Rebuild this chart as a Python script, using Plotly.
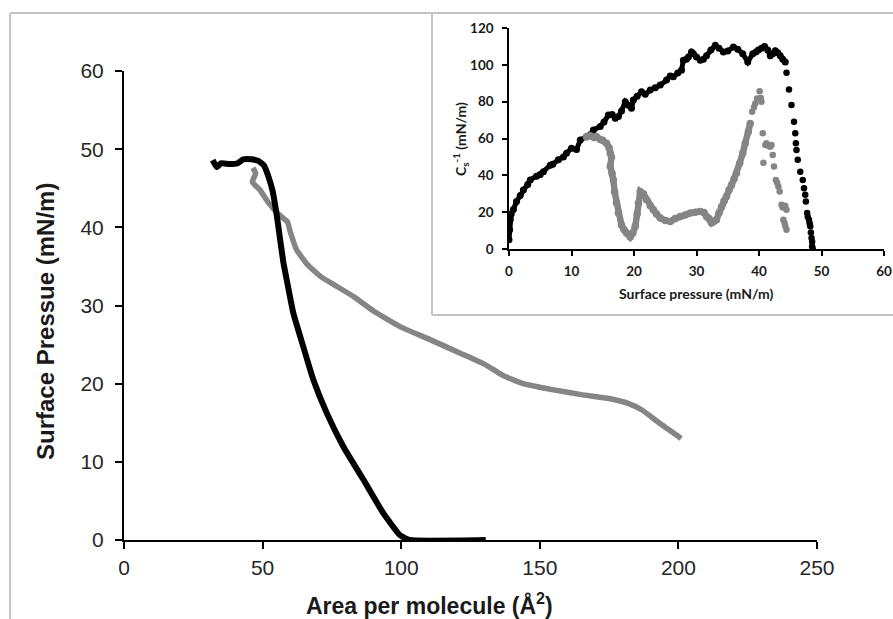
import plotly.graph_objects as go

W, H = 893, 619

# ── main isotherm: surface pressure vs area per molecule ──
black_area = [32.0, 33.5, 35.0, 38.0, 41.0, 43.0, 46.0, 48.5, 50.5, 52.0, 53.5, 55.0,
              56.3, 57.5, 58.7, 61.1, 64.7, 68.3, 73.2, 79.2, 86.4, 93.6, 99.6, 103.0, 130.5]
black_pi = [48.6, 47.7, 48.2, 48.1, 48.2, 48.7, 48.7, 48.5, 47.9, 46.6, 44.8, 41.8,
            38.5, 35.5, 33.3, 29.0, 24.7, 20.5, 16.2, 11.9, 7.7, 3.4, 0.6, 0.0, 0.0]

gray_area = [46.5, 47.5, 46.3, 49.0, 52.0, 56.0, 58.0, 59.0, 60.0, 62.3, 66.0, 71.0, 77.0,
             83.0, 90.0, 99.6, 110.0, 121.3, 130.0, 137.0, 144.0, 155.0, 165.0, 175.0,
             181.6, 187.0, 193.0, 201.0]
gray_pi = [47.6, 46.9, 45.8, 44.8, 43.2, 41.6, 41.0, 40.7, 39.4, 37.1, 35.3, 33.7, 32.4,
           31.1, 29.3, 27.3, 25.7, 23.9, 22.5, 21.0, 20.0, 19.2, 18.6, 18.1,
           17.5, 16.6, 15.0, 13.0]

# ── inset: compressibility modulus vs surface pressure ──
ins_black_x = [0, 0.1, 0.2, 0.35, 0.7, 1.2, 1.8, 2.3, 3.0, 3.4, 4.4, 5.0, 5.5, 6.6, 7.0, 7.9,
               8.7, 9.2, 10.0, 10.8, 11.4, 12.4, 13.0, 13.5, 14.6, 15.2, 15.9, 16.5, 17.0,
               17.5, 18.0, 18.6, 19.1, 19.6, 19.9, 20.5, 21.2, 21.8, 22.6, 23.4, 24.2, 25.2,
               25.8, 26.3, 27.0, 27.6, 27.9, 28.4, 28.7, 29.2, 29.5, 30.0, 30.6, 31.1, 31.6,
               32.3, 33.0, 33.6, 34.3, 35.0, 35.9, 36.6, 37.4, 38.2, 39.0, 39.5, 39.9, 40.4,
               40.9, 41.4, 41.8, 42.2, 42.6, 43.0, 43.4, 43.8, 44.2]
ins_black_y = [5, 10.5, 16, 19, 21.5, 25.8, 29, 32, 35, 37.5, 39.5, 40.5, 42, 45.5, 46, 48.4,
               50, 52, 54.7, 54, 59.2, 61, 62, 64.6, 66.5, 69, 72.7, 73, 71,
               72, 75, 80, 78, 76.4, 80.9, 83, 85.4, 84, 86.3, 87.5, 89, 91.7,
               94, 93.5, 95.5, 97.1, 102.5, 103, 104.3, 107, 106, 104.3, 102.5, 103, 105,
               108, 110.6, 109, 107, 107.5, 109.7, 108.5, 106, 101.6, 106, 107, 108, 109,
               110, 108, 105, 106, 107.6, 106.5, 105, 103, 101.6]
ins_black_drop_x = [44.4, 44.8, 45.2, 45.6, 45.8, 45.9, 46.0, 46.2, 46.6, 47.0, 47.2, 47.4,
                    47.5, 47.7, 47.8, 48.0, 48.1, 48.2, 48.3, 48.4, 48.5, 48.5, 48.6]
ins_black_drop_y = [95.7, 86.6, 78.2, 69.1, 62.8, 57.4, 53.8, 48.4, 42, 37.5, 33, 29.4,
                    25.8, 19.5, 17.5, 15.9, 14, 12.3, 9, 6, 4, 1.4, 0]

ins_gray_x = [12.4, 13.0, 13.6, 14.0, 14.6, 15.0, 15.6, 16.0, 16.2, 16.4, 16.2, 16.5, 16.7,
              16.9, 17.2, 17.5, 18.0, 18.4, 18.8, 19.1, 19.4, 19.8, 20.2, 20.5, 20.7, 21.0,
              21.5, 22.0, 22.6, 23.1, 23.6, 24.2, 25.0, 25.8, 26.6, 27.4, 28.2, 29.0, 29.8,
              30.6, 31.2, 31.6, 32.0, 32.4, 32.8, 33.2, 33.6, 34.0, 34.4, 34.8, 35.2, 35.6,
              36.0, 36.4, 36.9, 37.4, 37.8, 38.3, 38.6]
ins_gray_y = [61, 61.5, 60.5, 61, 59.5, 59, 57.4, 55, 52, 50, 45, 41, 37.5,
              31, 25, 19.5, 13, 10.5, 8.7, 8, 6.5, 8.5, 12.3, 19, 24.9, 31.2,
              30, 26.7, 23.5, 21.3, 19, 16.8, 15.5, 15, 16.5, 17.7, 18.5, 19.5, 20,
              20.4, 19.8, 17.7, 16.5, 14.1, 15, 15.9, 19.5, 23, 26, 28.5, 32, 34.8,
              38, 41.2, 46.6, 52, 57.4, 63.7, 68.2]
ins_gray_pts_x = [38.9, 39.2, 39.4, 39.7, 40.1, 40.3, 40.4, 40.6, 40.7, 41.0, 41.2, 41.5, 41.8,
                  42.0, 42.2, 42.4, 42.7, 42.9, 43.1, 43.3, 43.6, 43.8, 44.0, 44.2, 44.4, 43.9,
                  44.1, 44.2, 44.4]
ins_gray_pts_y = [74.5, 77, 79, 81.7, 85.7, 82, 80, 62.8, 46.9, 56.5, 57.4, 56, 55.5,
                  56.5, 51, 44.8, 37.5, 36, 33.9, 31.2, 24, 22.5, 23, 23.5, 21.3, 15.9,
                  14, 12.5, 10.5]

BLACK = "#000000"
GRAY = "#858585"
MAIN_FONT = "Liberation Sans, Arial, sans-serif"
INSET_FONT = "Lato, Open Sans, sans-serif"


def px(x):
    return x / W


def py(y):
    return 1 - y / H


fig = go.Figure()

fig.add_trace(go.Scatter(x=gray_area, y=gray_pi, mode="lines",
                         line=dict(color=GRAY, width=5.5, shape="spline", smoothing=0.4),
                         xaxis="x", yaxis="y"))
fig.add_trace(go.Scatter(x=black_area, y=black_pi, mode="lines",
                         line=dict(color=BLACK, width=6, shape="spline", smoothing=0.4),
                         xaxis="x", yaxis="y"))

fig.add_trace(go.Scatter(x=ins_black_x, y=ins_black_y, mode="lines+markers",
                         line=dict(color=BLACK, width=5), marker=dict(color=BLACK, size=7),
                         xaxis="x2", yaxis="y2"))
fig.add_trace(go.Scatter(x=ins_black_drop_x, y=ins_black_drop_y, mode="markers",
                         marker=dict(color=BLACK, size=6.5), xaxis="x2", yaxis="y2"))
fig.add_trace(go.Scatter(x=ins_gray_x, y=ins_gray_y, mode="lines+markers",
                         line=dict(color=GRAY, width=6.5), marker=dict(color=GRAY, size=7.5),
                         xaxis="x2", yaxis="y2"))
fig.add_trace(go.Scatter(x=ins_gray_pts_x, y=ins_gray_pts_y, mode="markers",
                         marker=dict(color=GRAY, size=6.5), xaxis="x2", yaxis="y2"))

main_axis = dict(showline=True, linecolor=BLACK, linewidth=2, ticks="outside", ticklen=7,
                 tickwidth=2, tickcolor=BLACK, showgrid=False, zeroline=False, automargin=False,
                 tickfont=dict(family=MAIN_FONT, size=21, color="#262626"))
inset_axis = dict(showline=True, linecolor=BLACK, linewidth=1.5, ticks="outside", ticklen=5,
                  tickwidth=1.5, tickcolor=BLACK, showgrid=False, zeroline=False, automargin=False,
                  tickfont=dict(family=INSET_FONT, size=13.5, color="#1a1a1a", weight="bold"))

fig.update_layout(
    width=W, height=H,
    margin=dict(l=0, r=0, t=0, b=0, autoexpand=False),
    paper_bgcolor="white", plot_bgcolor="rgba(0,0,0,0)",
    showlegend=False,
    xaxis=dict(main_axis, domain=[px(124), px(817)], range=[0, 250],
               tickvals=[0, 50, 100, 150, 200, 250], ticklabelstandoff=1, anchor="y"),
    yaxis=dict(main_axis, domain=[py(540), py(71)], range=[0, 60],
               tickvals=[0, 10, 20, 30, 40, 50, 60], ticklabelstandoff=7, anchor="x"),
    xaxis2=dict(inset_axis, domain=[px(509), px(884)], range=[0, 60],
                tickvals=[0, 10, 20, 30, 40, 50, 60], ticklabelstandoff=4, anchor="y2"),
    yaxis2=dict(inset_axis, domain=[py(249), py(28)], range=[0, 120],
                tickvals=[0, 20, 40, 60, 80, 100, 120], ticklabelstandoff=6, anchor="x2"),
)

frame = dict(color="#c4c4c4", width=2)
for x0, y0, x1, y1 in [(10, 13, W, 13), (10, 13, 10, H), (432, 13, 432, 315), (432, 315, W, 315)]:
    fig.add_shape(type="line", xref="paper", yref="paper",
                  x0=px(x0), y0=py(y0), x1=px(x1), y1=py(y1), line=frame, layer="below")

title_main = dict(family=MAIN_FONT, size=23, color="#1a1a1a", weight="bold")
title_inset = dict(family=INSET_FONT, size=14, color="#1a1a1a", weight="bold")
centred = dict(xref="paper", yref="paper", xanchor="center", yanchor="middle", showarrow=False)
fig.add_annotation(text="Area per molecule (Å<sup>2</sup>)", x=px(429), y=py(604),
                   font=title_main, **centred)
fig.add_annotation(text="Surface Pressue (mN/m)", x=px(45), y=py(322), textangle=-90,
                   font=dict(title_main, size=24), **centred)
fig.add_annotation(text="Surface pressure (mN/m)", x=px(696), y=py(293),
                   font=title_inset, **centred)
fig.add_annotation(text="C<sub>s</sub><sup>-1</sup> (mN/m)", x=px(460), y=py(139), textangle=-90,
                   font=title_inset, **centred)

# drop the browser's default body margin so the figure fills the window exactly
fig.write_html("out.html", config={"displayModeBar": False},
               post_script="document.body.style.margin = '0';")
